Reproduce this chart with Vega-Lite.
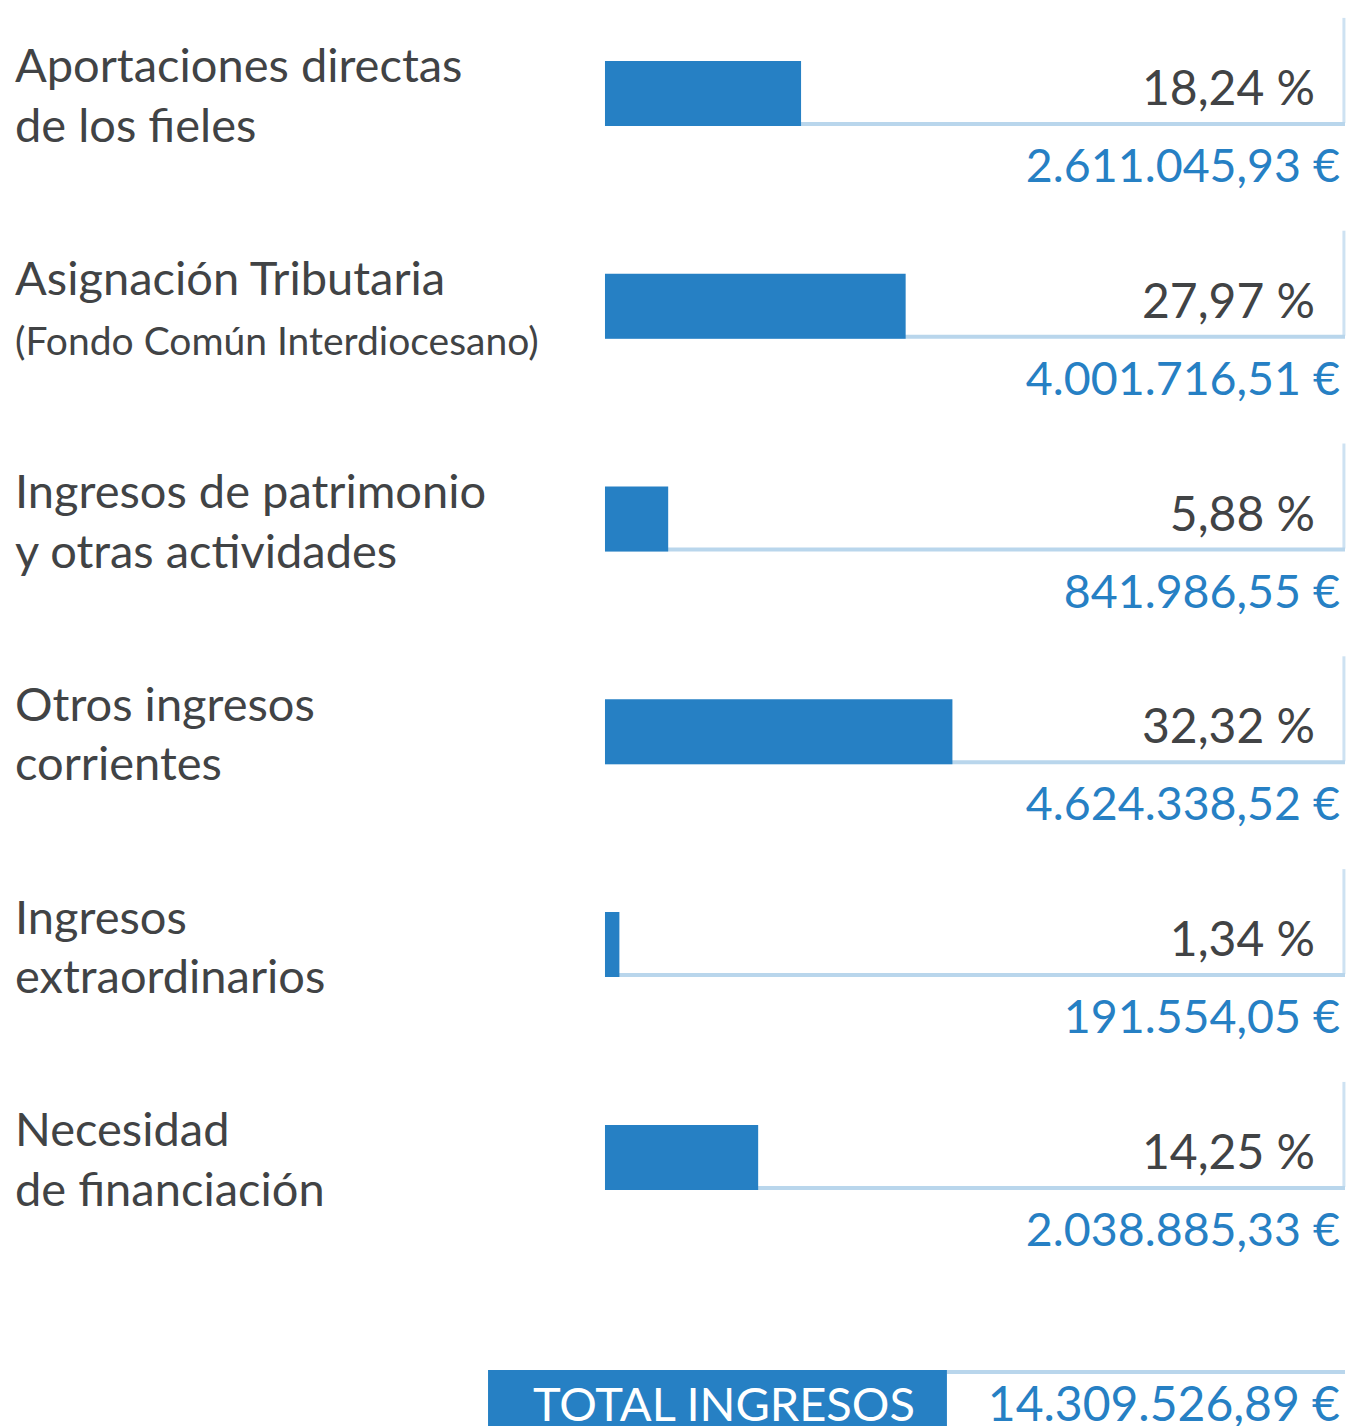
{
  "$schema": "https://vega.github.io/schema/vega-lite/v6.json",
  "width": 1348,
  "height": 1426,
  "padding": 0,
  "autosize": {"type": "none"},
  "background": "#ffffff",
  "config": {"view": {"stroke": null}, "text": {"font": "Lato"}},
  "datasets": {
    "rows": [
      {"cat": "Aportaciones directas de los fieles", "line1": "Aportaciones directas", "line2": "de los fieles", "pct": 18.24, "pctLabel": "18,24 %", "amount": "2.611.045,93 €"},
      {"cat": "Asignación Tributaria", "line1": "Asignación Tributaria", "line2": "(Fondo Común Interdiocesano)", "pct": 27.97, "pctLabel": "27,97 %", "amount": "4.001.716,51 €"},
      {"cat": "Ingresos de patrimonio y otras actividades", "line1": "Ingresos de patrimonio", "line2": "y otras actividades", "pct": 5.88, "pctLabel": "5,88 %", "amount": "841.986,55 €"},
      {"cat": "Otros ingresos corrientes", "line1": "Otros ingresos", "line2": "corrientes", "pct": 32.32, "pctLabel": "32,32 %", "amount": "4.624.338,52 €"},
      {"cat": "Ingresos extraordinarios", "line1": "Ingresos", "line2": "extraordinarios", "pct": 1.34, "pctLabel": "1,34 %", "amount": "191.554,05 €"},
      {"cat": "Necesidad de financiación", "line1": "Necesidad", "line2": "de financiación", "pct": 14.25, "pctLabel": "14,25 %", "amount": "2.038.885,33 €"}
    ],
    "total": [
      {"label": "TOTAL INGRESOS", "amount": "14.309.526,89 €"}
    ]
  },
  "layer": [
    {
      "data": {"name": "rows"},
      "mark": {"type": "rule", "color": "#b9d6ec", "strokeWidth": 4, "yOffset": 17.5},
      "encoding": {
        "x": {"datum": 0, "type": "quantitative", "scale": {"domain": [-56.28, 69.12], "nice": false, "zero": false}, "axis": null},
        "x2": {"datum": 68.84},
        "y": {"field": "cat", "type": "nominal", "bandPosition": 0.5, "scale": {"type": "band", "domain": ["Aportaciones directas de los fieles", "Asignación Tributaria", "Ingresos de patrimonio y otras actividades", "Otros ingresos corrientes", "Ingresos extraordinarios", "Necesidad de financiación"], "paddingInner": 0, "paddingOuter": 0.3505, "align": 0, "round": false}, "axis": null}
      }
    },
    {
      "data": {"name": "rows"},
      "mark": {"type": "tick", "orient": "vertical", "color": "#b9d6ec", "size": 105, "thickness": 3, "yOffset": -36},
      "encoding": {
        "x": {"datum": 68.74, "type": "quantitative"},
        "y": {"field": "cat", "type": "nominal"}
      }
    },
    {
      "data": {"name": "rows"},
      "mark": {"type": "bar", "color": "#2680c4", "height": 65, "yOffset": -13},
      "encoding": {
        "x": {"field": "pct", "type": "quantitative"},
        "x2": {"datum": 0},
        "y": {"field": "cat", "type": "nominal"}
      }
    },
    {
      "data": {"name": "rows"},
      "mark": {"type": "text", "align": "left", "baseline": "alphabetic", "color": "#414345", "fontSize": 47, "dy": -24},
      "encoding": {
        "x": {"datum": -54.88, "type": "quantitative"},
        "y": {"field": "cat", "type": "nominal"},
        "text": {"field": "line1"}
      }
    },
    {
      "data": {"name": "rows"},
      "mark": {"type": "text", "align": "left", "baseline": "alphabetic", "color": "#414345", "dy": 35.5},
      "encoding": {
        "x": {"datum": -54.88, "type": "quantitative"},
        "y": {"field": "cat", "type": "nominal"},
        "text": {"field": "line2"},
        "size": {"condition": {"test": "indexof(datum.line2, '(') == 0", "value": 39}, "value": 47}
      }
    },
    {
      "data": {"name": "rows"},
      "mark": {"type": "text", "align": "right", "baseline": "alphabetic", "color": "#414345", "fontSize": 48, "dy": -1.5},
      "encoding": {
        "x": {"datum": 66.05, "type": "quantitative"},
        "y": {"field": "cat", "type": "nominal"},
        "text": {"field": "pctLabel"}
      }
    },
    {
      "data": {"name": "rows"},
      "mark": {"type": "text", "align": "right", "baseline": "alphabetic", "color": "#2680c4", "fontSize": 46.5, "dy": 75.5},
      "encoding": {
        "x": {"datum": 68.37, "type": "quantitative"},
        "y": {"field": "cat", "type": "nominal"},
        "text": {"field": "amount"}
      }
    },
    {
      "data": {"name": "total"},
      "mark": {"type": "rule", "color": "#b9d6ec", "strokeWidth": 4, "yOffset": 201.6},
      "encoding": {
        "x": {"datum": 31.81, "type": "quantitative"},
        "x2": {"datum": 68.84},
        "y": {"datum": "Necesidad de financiación", "type": "nominal"}
      }
    },
    {
      "data": {"name": "total"},
      "mark": {"type": "bar", "color": "#2680c4", "height": 80, "yOffset": 239.6},
      "encoding": {
        "x": {"datum": -10.88, "type": "quantitative"},
        "x2": {"datum": 31.81},
        "y": {"datum": "Necesidad de financiación", "type": "nominal"}
      }
    },
    {
      "data": {"name": "total"},
      "mark": {"type": "text", "align": "center", "baseline": "alphabetic", "color": "#ffffff", "fontSize": 47, "dy": 250.6},
      "encoding": {
        "x": {"datum": 11.07, "type": "quantitative"},
        "y": {"datum": "Necesidad de financiación", "type": "nominal"},
        "text": {"field": "label"}
      }
    },
    {
      "data": {"name": "total"},
      "mark": {"type": "text", "align": "right", "baseline": "alphabetic", "color": "#2680c4", "fontSize": 48, "dy": 250.6},
      "encoding": {
        "x": {"datum": 68.37, "type": "quantitative"},
        "y": {"datum": "Necesidad de financiación", "type": "nominal"},
        "text": {"field": "amount"}
      }
    }
  ]
}
